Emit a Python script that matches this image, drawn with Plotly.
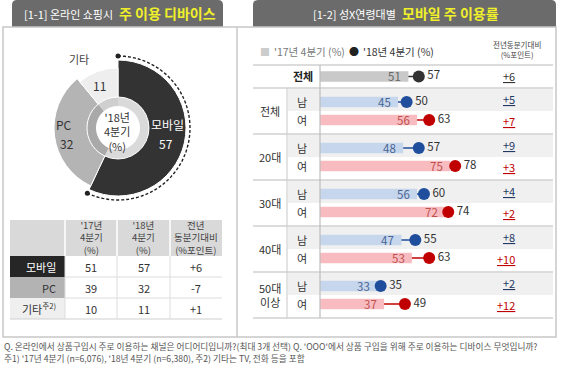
import plotly.graph_objects as go

W, H = 570, 369
FONT = "Noto Sans CJK KR"

# ---------------- data: left panel ----------------
devices = ['모바일', 'PC', '기타']
share_17 = [51, 39, 10]
share_18 = [57, 32, 11]
share_diff = ['+6', '-7', '+1']
table_header = ['', "'17년<br>4분기<br>(%)", "'18년<br>4분기<br>(%)", '전년<br>동분기대비<br>(%포인트)']

# ---------------- data: right panel ----------------
groups = ['전체', '20대', '30대', '40대', '50대<br>이상']
sexes = ['남', '여']
total_label = '전체'
total_17 = 51
total_18 = 57
total_diff = '+6'
male_17 = [45, 48, 56, 47, 33]
male_18 = [50, 57, 60, 55, 35]
male_diff = ['+5', '+9', '+4', '+8', '+2']
female_17 = [56, 75, 72, 53, 37]
female_18 = [63, 78, 74, 63, 49]
female_diff = ['+7', '+3', '+2', '+10', '+12']

footnote_1 = ("Q. 온라인에서 상품구입시 주로 이용하는 채널은 어디어디입니까?(최대 3개 선택) "
              "Q. 'OOO'에서 상품 구입을 위해 주로 이용하는 디바이스 무엇입니까?")
footnote_2 = "주1) '17년 4분기 (n=6,076), '18년 4분기 (n=6,380), 주2) 기타는 TV, 전화 등을 포함"


def px(x):
    return x / W


def py(y):
    return 1 - y / H


fig = go.Figure()
shapes = []
annotations = []


def ann(x, y, text, size=11, color='#333', xanchor='center', yanchor='middle', **kw):
    annotations.append(dict(x=px(x), y=py(y), xref='paper', yref='paper', text=text,
                            showarrow=False, xanchor=xanchor, yanchor=yanchor,
                            font=dict(family=FONT, size=size, color=color), **kw))


def rect(x0, x1, y0, y1, fill, layer='above'):
    shapes.append(dict(type='rect', xref='paper', yref='paper', x0=px(x0), x1=px(x1), y0=py(y1), y1=py(y0),
                       fillcolor=fill, line=dict(width=0), layer=layer))


def hline(x0, x1, y, color, width=1.0):
    shapes.append(dict(type='line', xref='paper', yref='paper', x0=px(x0), x1=px(x1), y0=py(y), y1=py(y),
                       line=dict(color=color, width=width)))


def vline(x, y0, y1, color, width=1.0):
    shapes.append(dict(type='line', xref='paper', yref='paper', x0=px(x), x1=px(x), y0=py(y1), y1=py(y0),
                       line=dict(color=color, width=width)))


# ---------------- frames / tabs ----------------
TAB = '#6b6b6b'
YEL = '#f0f02a'


def tab_path(x0, x1, y0, y1, r=5):
    return (f"M {px(x0)} {py(y1)} L {px(x0)} {py(y0 + r)} Q {px(x0)} {py(y0)} {px(x0 + r)} {py(y0)} "
            f"L {px(x1 - r)} {py(y0)} Q {px(x1)} {py(y0)} {px(x1)} {py(y0 + r)} L {px(x1)} {py(y1)} Z")


shapes.append(dict(type='path', xref='paper', yref='paper', path=tab_path(12, 223, 0, 27),
                   fillcolor=TAB, line=dict(width=0)))
shapes.append(dict(type='path', xref='paper', yref='paper', path=tab_path(253, 556, 0, 27),
                   fillcolor=TAB, line=dict(width=0)))
shapes.append(dict(type='rect', xref='paper', yref='paper', x0=px(3), x1=px(556), y0=py(337), y1=py(27),
                   line=dict(color='#c8c8c8', width=1.5), fillcolor='rgba(0,0,0,0)'))
vline(237, 27, 337, '#c8c8c8', 1.5)

ann(115, 14, '[1-1] 온라인 쇼핑시', size=11, color='white', xanchor='right')
ann(117, 13, '<b>주 이용 디바이스</b>', size=14, color=YEL, xanchor='left')
ann(398, 14, '[1-2] 성X연령대별', size=11, color='white', xanchor='right')
ann(400, 13, '<b>모바일 주 이용률</b>', size=14, color=YEL, xanchor='left')

# ---------------- donut (barpolar) ----------------
tot = sum(share_18)
widths = [v / tot * 360 for v in share_18]
starts = [sum(widths[:i]) for i in range(len(widths))]
centers = [s + w / 2 for s, w in zip(starts, widths)]
outer = [68, 64, 60]
BASE = 31
slice_colors = ['#333333', '#b4b4b4', '#eeeeee']
ring_colors = ['#dadada', '#a9a9a9', '#cfcfcf']

fig.add_trace(go.Barpolar(r=[BASE - 22] * 3, base=[22] * 3, theta=centers, width=widths,
                          marker=dict(color=ring_colors, line=dict(width=0)),
                          subplot='polar', showlegend=False, hoverinfo='skip'))
fig.add_trace(go.Barpolar(r=[o - BASE for o in outer], base=[BASE] * 3, theta=centers, width=widths,
                          marker=dict(color=slice_colors, line=dict(color='white', width=1)),
                          subplot='polar', showlegend=False, hoverinfo='skip'))
n = 80
arc_theta = [widths[0] * k / (n - 1) for k in range(n)]
fig.add_trace(go.Scatterpolar(r=[72] * n, theta=arc_theta, mode='lines',
                              line=dict(color='#222', width=1.4, dash='3px,2px'),
                              subplot='polar', showlegend=False, hoverinfo='skip'))
fig.add_trace(go.Scatterpolar(r=[72, 72], theta=[0, widths[0]], mode='markers',
                              marker=dict(color='#222', size=5),
                              subplot='polar', showlegend=False, hoverinfo='skip'))

ann(117, 132, "'18년<br>4분기<br>(%)", size=11, color='#333')
ann(167, 125, devices[0], size=12, color='white')
ann(166, 143, str(share_18[0]), size=12, color='white')
ann(64, 125, devices[1], size=12, color='#333')
ann(67, 143, str(share_18[1]), size=12, color='#333')
ann(79, 59, devices[2], size=11, color='#444')
ann(99, 85, str(share_18[2]), size=12, color='#333')

# ---------------- table (shapes + text) ----------------
col_x = [10, 65, 117, 170, 222]
head_y = (220, 256)
row_h = 21
row_fill = ['#262626', '#b3b3b3', '#efefef']
row_font = ['white', '#333', '#333']
rect(col_x[0], col_x[-1], head_y[0], head_y[1], '#d9d9d9')
for cx in col_x[1:-1]:
    vline(cx, head_y[0], head_y[1], 'white', 1.5)
for c, htxt in enumerate(table_header):
    if not htxt:
        continue
    xc = (col_x[c] + col_x[c + 1]) / 2
    ann(xc, (head_y[0] + head_y[1]) / 2, htxt, size=9.5, color='#444')
row_labels = devices[:2] + [devices[2] + '<sup>주2)</sup>']
cols = [share_17, share_18, share_diff]
for r in range(len(devices)):
    y0 = head_y[1] + r * row_h
    y1 = y0 + row_h
    yc = (y0 + y1) / 2
    rect(col_x[0], col_x[1], y0, y1, row_fill[r])
    ann(col_x[1] - 7, yc, row_labels[r], size=11, color=row_font[r], xanchor='right')
    for c, vals in enumerate(cols):
        xc = (col_x[c + 1] + col_x[c + 2]) / 2
        ann(xc, yc, str(vals[r]), size=11, color='#333')
    if r > 0:
        hline(col_x[1], col_x[-1], y0, '#dddddd', 1)
t_bot = head_y[1] + len(devices) * row_h
hline(col_x[0], col_x[-1], t_bot, '#cfcfcf', 1.2)
for cx in col_x[2:-1]:
    vline(cx, head_y[1], t_bot, '#dddddd', 1)
vline(col_x[1], head_y[1], t_bot, '#dddddd', 1)

# ---------------- right chart ----------------
X0 = 320
PX_PER = 1.733
XR = [0, 100]
row_top = 65
total_h = 23
group_h = 46
group_tops = [88 + group_h * i for i in range(len(groups))]

C_TOTAL_BAR, C_TOTAL_DOT = '#c9c9c9', '#333333'
C_M_BAR, C_M_DOT, C_M_TXT = '#c6d6ec', '#1f4e9c', '#4a6594'
C_F_BAR, C_F_DOT, C_F_TXT = '#f8bcc0', '#c00000', '#c0504d'

for yy in [row_top, 88] + [t + group_h for t in group_tops]:
    hline(253, 553, yy, '#d0d0d0', 1.5)
for t in group_tops:
    rect(288, 553, t + 0.8, t + 23, '#f0f0f0', layer='below')
vline(287, 88, group_tops[-1] + group_h, '#d0d0d0', 1.2)
vline(X0, row_top, group_tops[-1] + group_h, '#bdbdbd', 1.2)

layout_axes = {}
layout_axes['xaxis'] = dict(domain=[px(X0), px(X0 + PX_PER * (XR[1] - XR[0]))], range=XR, visible=False,
                            anchor='y', fixedrange=True)


def add_rows(axname, cats, v17, v18, bar_cols, dot_cols, txt_cols, width):
    fig.add_trace(go.Bar(x=v17, y=cats, orientation='h', xaxis='x', yaxis=axname, width=width,
                         marker=dict(color=bar_cols, line=dict(width=0)),
                         showlegend=False, hoverinfo='skip'))
    for j, (c, a, b, col) in enumerate(zip(cats, v17, v18, dot_cols)):
        fig.add_trace(go.Scatter(x=[a, b], y=[c, c], mode='lines', xaxis='x', yaxis=axname,
                                 line=dict(color=col, width=1.6), showlegend=False, hoverinfo='skip'))
        annotations.append(dict(x=a, xref='x', y=j, yref=axname, text=str(a), showarrow=False,
                                xanchor='right', xshift=-5,
                                font=dict(family=FONT, size=11.5, color=txt_cols[j])))
    fig.add_trace(go.Scatter(x=v18, y=cats, mode='markers+text', xaxis='x', yaxis=axname,
                             marker=dict(color=dot_cols, size=12),
                             text=[str(v) for v in v18], textposition='middle right',
                             textfont=dict(family=FONT, size=11.5, color='#333'),
                             cliponaxis=False, showlegend=False, hoverinfo='skip'))


add_rows('y', [total_label], [total_17], [total_18], [C_TOTAL_BAR], [C_TOTAL_DOT], ['#666'], 10.5 / total_h)
layout_axes['yaxis'] = dict(domain=[py(88), py(row_top)], type='category', range=[0.5, -0.5],
                            visible=False, anchor='x', fixedrange=True)
annotations.append(dict(x=px(303), xref='paper', y=0, yref='y', text=f'<b>{total_label}</b>', showarrow=False,
                        font=dict(family=FONT, size=11, color='#222')))
annotations.append(dict(x=px(517), xref='paper', y=0, yref='y', text=f'<u>{total_diff}</u>', showarrow=False,
                        font=dict(family=FONT, size=11, color='#333')))

pitch = 18.0
off = 14.0
for i, g in enumerate(groups):
    name = f'y{i + 2}'
    top = group_tops[i]
    add_rows(name, sexes, [male_17[i], female_17[i]], [male_18[i], female_18[i]],
             [C_M_BAR, C_F_BAR], [C_M_DOT, C_F_DOT], [C_M_TXT, C_F_TXT], 10.5 / pitch)
    layout_axes[f'yaxis{i + 2}'] = dict(domain=[py(top + group_h), py(top)], type='category',
                                        range=[1 + off / pitch, -off / pitch], visible=False,
                                        anchor='x', fixedrange=True)
    for j, s in enumerate(sexes):
        annotations.append(dict(x=px(302), xref='paper', y=j, yref=name, text=s, showarrow=False,
                                font=dict(family=FONT, size=11, color='#333')))
    annotations.append(dict(x=px(270), xref='paper', y=0.5, yref=name, text=g, showarrow=False,
                            font=dict(family=FONT, size=11, color='#333')))
    annotations.append(dict(x=px(517), xref='paper', y=0, yref=name, text=f'<u>{male_diff[i]}</u>',
                            showarrow=False, yshift=3, font=dict(family=FONT, size=11, color='#1f3864')))
    annotations.append(dict(x=px(517), xref='paper', y=1, yref=name, text=f'<u>{female_diff[i]}</u>',
                            showarrow=False, yshift=-1, font=dict(family=FONT, size=11, color='#c00000')))

# legend (text)
ann(265, 52, '■', size=10, color='#cccccc')
ann(272, 52, "'17년 4분기 (%)", size=10.5, color='#777', xanchor='left')
ann(354, 52, '●', size=10, color='#222')
ann(361, 52, "'18년 4분기 (%)", size=10.5, color='#333', xanchor='left')
ann(517, 50, '전년동분기대비<br>(%포인트)', size=7.5, color='#444')

# footnotes
ann(2, 346, footnote_1, size=8.7, color='#555', xanchor='left')
ann(2, 358, footnote_2, size=8.7, color='#555', xanchor='left')

fig.update_layout(
    width=W, height=H, autosize=False,
    margin=dict(l=0, r=0, t=0, b=0),
    paper_bgcolor='white', plot_bgcolor='rgba(0,0,0,0)',
    font=dict(family=FONT),
    showlegend=False,
    polar=dict(domain=dict(x=[px(38), px(198)], y=[py(208), py(48)]),
               bgcolor='rgba(0,0,0,0)', barmode='overlay',
               radialaxis=dict(range=[0, 80], visible=False),
               angularaxis=dict(visible=False, rotation=90, direction='clockwise')),
    shapes=shapes, annotations=annotations,
    **layout_axes,
)

fig.write_html('out.html', config={'displayModeBar': False},
               post_script="document.body.style.margin='0px';document.body.style.overflow='hidden';")
